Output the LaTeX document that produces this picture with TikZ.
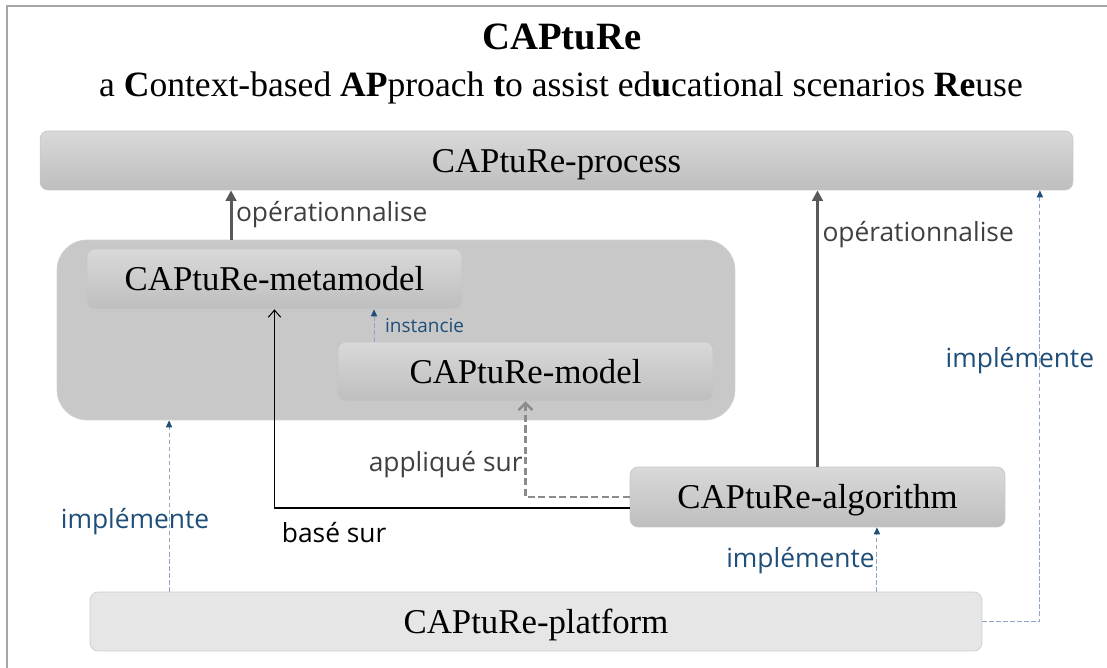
\documentclass[tikz,border=0pt]{standalone}
\usepackage{fontspec}
\setmainfont{Liberation Serif}
\newfontfamily\lblfont{Open Sans}
\usetikzlibrary{arrows.meta}

\begin{document}
\begin{tikzpicture}[x=0.02cm,y=-0.02cm,
  box/.style={rounded corners=0.16cm,draw=black!22,top color=boxtop,bottom color=boxbot,
    inner sep=0pt,minimum width=7.5cm,minimum height=1.2cm,text height=13.4pt,text depth=0pt,
    font=\fontsize{19.8}{22}\selectfont},
  flatbox/.style={box,top color=platfill,bottom color=platfill,draw=black!20},
  opline/.style={draw=opgray,line width=1.7pt,-{Triangle[width=6pt,length=6pt]}},
  impline/.style={draw=impdash,line width=0.6pt,dash pattern=on 2.5pt off 1.5pt,
    -{Triangle[width=3.5pt,length=4pt,color=impblue]}},
  lbl/.style={font=\lblfont\fontsize{15}{16}\selectfont,text=lblgray,inner sep=2pt},
  implbl/.style={lbl,text=impblue}]
\definecolor{boxtop}{HTML}{D9D9D9}
\definecolor{boxbot}{HTML}{BEBEBE}
\definecolor{platfill}{HTML}{E6E6E6}
\definecolor{outerfill}{HTML}{C8C8C8}
\definecolor{opgray}{HTML}{595959}
\definecolor{lblgray}{HTML}{404040}
\definecolor{impblue}{HTML}{1F4E79}
\definecolor{impdash}{HTML}{8EA6C4}
\useasboundingbox (0,0) rectangle (1107,668);
\draw[black!35,line width=1pt] (7,668) -- (7,6) -- (1107,6);

% titre
\node[anchor=base] (title) at (562,49.5) {\fontsize{22}{26}\selectfont\bfseries CAPtuRe};
\node[anchor=base] (subtitle) at (561,97) {\fontsize{20.25}{24}\selectfont a \textbf{C}ontext-based \textbf{AP}proach \textbf{t}o assist ed\textbf{u}cational scenarios \textbf{Re}use};

% boites
\node[box,minimum width=20.66cm,minimum height=1.18cm] (proc) at (556.5,160.5) {CAPtuRe-process};
\node[rounded corners=0.6cm,fill=outerfill,draw=black!18,minimum width=13.56cm,minimum height=3.6cm] (outer) at (396,330) {};
\node[box] (meta) at (274.5,279) {CAPtuRe-metamodel};
\node[box,minimum height=1.18cm] (model) at (525.5,371.5) {CAPtuRe-model};
\node[box] (algo) at (817.5,497) {CAPtuRe-algorithm};
\node[flatbox,minimum width=17.84cm,minimum height=1.18cm] (plat) at (536,621.5) {CAPtuRe-platform};

% liens
\draw[opline] ([xshift=-3.3cm]outer.north) -- ([xshift=-3.3cm]outer.north |- proc.south)
  node[lbl,midway,anchor=west] {opérationnalise};
\draw[opline] (algo.north) -- (algo.north |- proc.south)
  node[lbl,pos=0.84,anchor=west] {opérationnalise};
\draw[impline] ([xshift=-3.03cm]model.north) -- ([xshift=-3.03cm]model.north |- meta.south)
  node[implbl,midway,anchor=west,xshift=4pt,font=\lblfont\fontsize{10.8}{12}\selectfont] {instancie};
\draw[black,line width=0.6pt,-{Straight Barb[length=4pt,width=7pt]}] ([yshift=-0.22cm]algo.west) -| (meta.south)
  node[lbl,text=black,pos=0.416,anchor=north,yshift=-6pt] {basé sur};
\draw[draw=black!45,line width=1.4pt,dash pattern=on 4pt off 2pt,-{Straight Barb[length=4pt,width=8pt]}] (algo.west) -| (model.south)
  node[lbl,pos=0.667,anchor=east,inner sep=1pt] {appliqué sur};
\draw[impline] ([xshift=-7.34cm]plat.north) -- ([xshift=-7.34cm]plat.north |- outer.south)
  node[implbl,pos=0.407,xshift=-0.68cm] {implémente};
\draw[impline] ([xshift=6.82cm]plat.north) -- ([xshift=6.82cm]plat.north |- algo.south)
  node[implbl,pos=0.49,anchor=east,inner sep=1pt] {implémente};
\draw[impline] (plat.east) -| ([xshift=9.67cm]proc.south)
  node[implbl,pos=0.803,xshift=-0.4cm] {implémente};
\end{tikzpicture}
\end{document}
